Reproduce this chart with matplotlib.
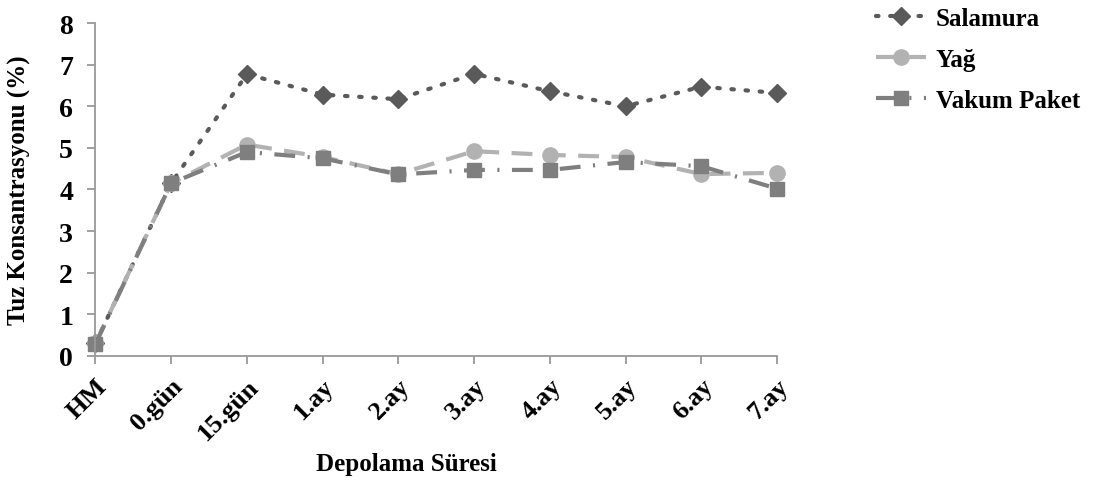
import matplotlib.pyplot as plt

kategoriler = ['HM', '0.gün', '15.gün', '1.ay', '2.ay', '3.ay', '4.ay', '5.ay', '6.ay', '7.ay']
salamura = [0.30, 4.15, 6.77, 6.28, 6.17, 6.78, 6.36, 6.00, 6.47, 6.32]
yag = [0.30, 4.15, 5.08, 4.78, 4.37, 4.92, 4.83, 4.78, 4.37, 4.40]
vakum = [0.28, 4.15, 4.90, 4.75, 4.36, 4.47, 4.47, 4.66, 4.56, 4.02]

plt.rcParams['font.family'] = ['Liberation Serif', 'DejaVu Serif']
plt.rcParams['font.weight'] = 'bold'

fig = plt.figure(figsize=(10.96, 4.81), dpi=100)
ax = fig.add_axes([0.087, 0.258, 0.622, 0.692])

x = range(len(kategoriler))
ax.plot(x, salamura, color='#5a5a5a', linestyle=(0, (0.6, 2.8)), dash_capstyle='round',
        linewidth=3, marker='D', markersize=9, label='Salamura', clip_on=False)
ax.plot(x, yag, color='#b2b2b2', linestyle=(0, (5, 3)), linewidth=3,
        marker='o', markersize=11, label='Yağ', clip_on=False)
ax.plot(x, vakum, color='#7f7f7f', linestyle=(0, (5, 3, 0.5, 3)), linewidth=3,
        marker='s', markersize=10, label='Vakum Paket', clip_on=False)

ax.set_xlim(0, len(kategoriler) - 1)
ax.set_ylim(0, 8)
ax.set_xticks(list(x))
ax.set_xticklabels(kategoriler, rotation=45, ha='right', rotation_mode='anchor', fontsize=19)
ax.set_yticks(range(9))
ax.tick_params(axis='y', labelsize=20, length=6, pad=10, color='#999999', width=1.3)
ax.tick_params(axis='x', length=6, pad=7, color='#999999', width=1.3)
for s in ['top', 'right']:
    ax.spines[s].set_visible(False)
for s in ['left', 'bottom']:
    ax.spines[s].set_color('#999999')
    ax.spines[s].set_linewidth(1.3)

ax.set_xlabel('Depolama Süresi', fontsize=18, fontweight='bold')
ax.set_ylabel('Tuz Konsantrasyonu (%)', fontsize=18, fontweight='bold')
ax.xaxis.set_label_coords(0.456, -0.288)
ax.yaxis.set_label_coords(-0.094, 0.5)

leg = fig.legend(loc='upper left', bbox_to_anchor=(0.792, 1.0), frameon=False,
                 borderaxespad=0.2, borderpad=0.1,
                 fontsize=18, handlelength=2.0, labelspacing=0.72, handletextpad=0.4)

fig.savefig('out.png', dpi=100)
